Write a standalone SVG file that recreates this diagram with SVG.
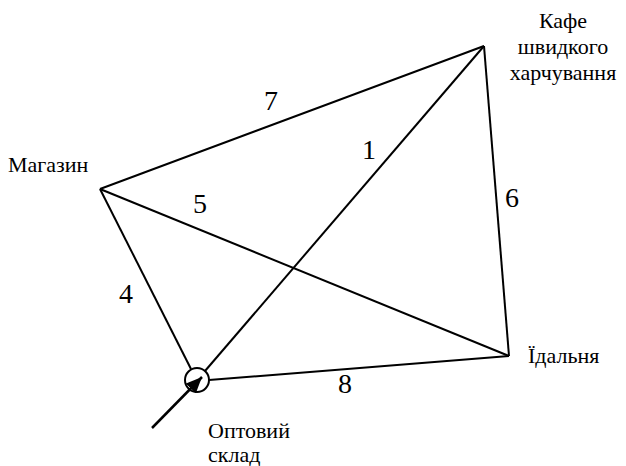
<svg xmlns="http://www.w3.org/2000/svg" width="626" height="466" viewBox="0 0 626 466">
<defs>
<marker id="ah" viewBox="0 0 16 14" refX="16" refY="7" markerWidth="16" markerHeight="14" markerUnits="userSpaceOnUse" orient="auto">
<path d="M0,0 L16,7 L0,14 z" fill="#000"/>
</marker>
</defs>
<rect width="626" height="466" fill="#fff"/>
<g id="cafe" font-size="22" text-anchor="middle">
<text x="563" y="28" font-family="Liberation Serif" style="font-family:'Liberation Serif',serif">Кафе</text>
<text x="563" y="54" font-family="Liberation Serif" style="font-family:'Liberation Serif',serif">швидкого</text>
<text x="563" y="80" font-family="Liberation Serif" style="font-family:'Liberation Serif',serif">харчування</text>
</g>
<g id="magazin" font-size="22">
<text x="8" y="172" font-family="Liberation Serif" style="font-family:'Liberation Serif',serif">Магазин</text>
</g>
<g id="idalnya" font-size="22">
<text x="528" y="363" font-family="Liberation Serif" style="font-family:'Liberation Serif',serif">Їдальня</text>
</g>
<g id="sklad" font-size="22">
<circle cx="197" cy="380" r="12" fill="#fff" stroke="#000" stroke-width="2"/>
<text x="208" y="438" font-family="Liberation Serif" style="font-family:'Liberation Serif',serif">Оптовий</text>
<text x="208" y="462" font-family="Liberation Serif" style="font-family:'Liberation Serif',serif">склад</text>
</g>
<g id="connectors" stroke="#000" stroke-width="2" fill="none">
<line x1="100" y1="189" x2="484" y2="46"/>
<line x1="100" y1="189" x2="509" y2="356"/>
<line x1="100" y1="189" x2="191" y2="369"/>
<line x1="205" y1="371" x2="484" y2="46"/>
<line x1="484" y1="46" x2="509" y2="356"/>
<line x1="209" y1="380" x2="509" y2="356"/>
<line x1="152" y1="428" x2="202" y2="377" marker-end="url(#ah)" stroke-width="2.5"/>
<g font-size="28" text-anchor="middle" fill="#000" stroke="none">
<text x="271" y="110" font-family="Liberation Serif" style="font-family:'Liberation Serif',serif">7</text>
<text x="369" y="159" font-family="Liberation Serif" style="font-family:'Liberation Serif',serif">1</text>
<text x="200" y="213" font-family="Liberation Serif" style="font-family:'Liberation Serif',serif">5</text>
<text x="512" y="207" font-family="Liberation Serif" style="font-family:'Liberation Serif',serif">6</text>
<text x="126" y="303" font-family="Liberation Serif" style="font-family:'Liberation Serif',serif">4</text>
<text x="345" y="393" font-family="Liberation Serif" style="font-family:'Liberation Serif',serif">8</text>
</g>
</g>
</svg>
